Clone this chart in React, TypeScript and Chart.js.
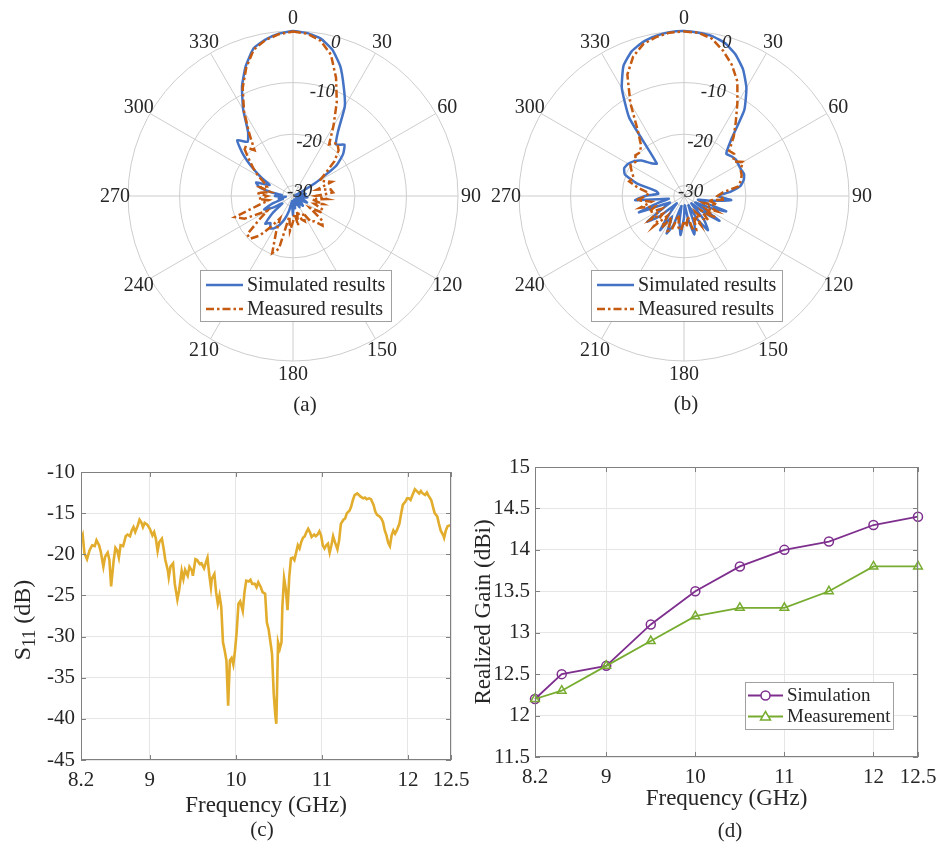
import { useEffect, useRef } from 'react';
import { Chart, registerables } from 'chart.js';

Chart.register(...registerables);

const SERIF = '"Liberation Serif", "Times New Roman", Times, serif';
const INK = '#262626';
const POLAR_GRID = '#cdcdcd';
const AXIS_GRID = '#e6e6e6';
const AXIS_LINE = '#808080';
const BLUE = '#4472c4';
const ORANGE = '#c55a11';
const GOLD = '#e2ac2c';
const PURPLE = '#7e2f8e';
const GREEN = '#77ac30';

// ---------- radiation patterns (dB, every 5 degrees, clockwise from boresight) ----------
const ANGLE_STEP = 5;
const patternAngles = Array.from({ length: 360 / ANGLE_STEP }, (_, i) => i * ANGLE_STEP);
const radialTicks = [0, -10, -20, -30];

const simA = [
  0, -0.3, -1.0, -2.6, -5.2, -8.7, -11.9, -16.8, -19.0, -17.9, -19.3, -21.8,
  -27.0, -30.5, -31.5, -30.8, -29.5, -31.0, -30.0, -29.2, -30.5, -31.2, -29.8, -29.0,
  -30.6, -31.3, -29.8, -29.3, -31.0, -30.0, -29.5, -31.0, -30.2, -31.3, -29.6, -30.8,
  -28.3, -30.2, -31.0, -29.0, -27.2, -25.8, -24.8, -24.3, -25.2, -24.4, -26.8, -29.5,
  -27.5, -25.8, -27.8, -30.0, -29.2, -30.6, -28.5, -29.8, -27.6, -25.2, -24.4, -27.0,
  -25.0, -22.3, -19.3, -16.7, -18.3, -16.8, -12.7, -8.6, -5.2, -2.4, -1.2, -0.4,
];
const measA = [
  -0.1, -0.4, -1.4, -3.6, -7.6, -11.9, -16.3, -19.8, -18.6, -19.5, -21.5, -24.3,
  -26.0, -25.2, -24.0, -27.2, -24.6, -24.2, -27.6, -25.4, -28.2, -26.0, -27.6, -25.5,
  -25.8, -28.0, -24.6, -23.9, -25.6, -25.9, -28.2, -26.6, -27.2, -29.0, -26.2, -28.6,
  -27.0, -25.2, -28.0, -21.4, -20.2, -24.2, -27.0, -25.0, -22.0, -20.3, -20.4, -24.0,
  -26.2, -21.6, -20.0, -25.0, -27.2, -25.3, -27.0, -25.0, -27.6, -25.4, -26.6, -25.8,
  -24.2, -22.6, -20.8, -18.4, -20.4, -17.2, -13.0, -8.9, -5.5, -2.6, -1.3, -0.5,
];
const simB = [
  0, -0.2, -0.5, -1.3, -2.8, -4.9, -7.8, -11.6, -17.8, -20.4, -20.0, -19.7,
  -19.8, -19.8, -19.6, -20.0, -20.9, -23.0, -25.5, -22.8, -26.8, -29.2, -23.3, -26.8,
  -29.5, -23.6, -27.2, -30.0, -26.0, -23.9, -26.8, -30.0, -26.0, -24.3, -27.5, -30.2,
  -27.8, -24.4, -27.0, -30.0, -26.0, -24.0, -27.5, -23.9, -28.0, -30.0, -26.0, -23.3,
  -27.5, -29.0, -22.7, -26.8, -29.0, -22.5, -24.5, -27.0, -26.5, -22.5, -19.8, -19.2,
  -19.5, -20.2, -21.3, -23.0, -23.8, -13.5, -7.9, -4.2, -2.2, -1.1, -0.5, -0.1,
];
const measB = [
  -0.1, -0.2, -1.0, -2.8, -4.9, -7.5, -11.3, -14.5, -17.0, -19.6, -19.3, -20.3,
  -18.8, -19.9, -20.1, -20.6, -21.3, -24.5, -25.5, -24.0, -27.2, -25.4, -28.0, -25.0,
  -27.2, -24.6, -27.6, -25.4, -26.2, -28.2, -25.5, -27.6, -25.0, -25.2, -28.0, -26.0,
  -27.2, -25.3, -25.8, -28.2, -25.0, -24.5, -27.2, -24.5, -27.0, -23.6, -26.6, -24.0,
  -27.0, -24.5, -26.0, -23.2, -25.6, -22.8, -24.6, -25.2, -23.0, -21.0, -21.6, -20.8,
  -20.0, -20.5, -19.7, -20.0, -19.0, -16.3, -11.2, -6.0, -3.2, -1.5, -0.7, -0.2,
];

// ---------- reflection coefficient ----------
const s11Freq = [
  8.20, 8.22, 8.24, 8.27, 8.30, 8.33, 8.36, 8.38, 8.41, 8.43, 8.46, 8.48, 8.51, 8.53, 8.55, 8.58,
  8.60, 8.62, 8.64, 8.66, 8.69, 8.72, 8.74, 8.77, 8.79, 8.81, 8.83, 8.86, 8.88, 8.90, 8.92, 8.94,
  8.97, 9.00, 9.03, 9.05, 9.07, 9.09, 9.11, 9.14, 9.16, 9.18, 9.21, 9.22, 9.24, 9.27, 9.29, 9.32,
  9.34, 9.37, 9.39, 9.41, 9.44, 9.46, 9.49, 9.50, 9.53, 9.55, 9.58, 9.60, 9.63, 9.66, 9.67, 9.69,
  9.71, 9.72, 9.75, 9.77, 9.79, 9.81, 9.83, 9.85, 9.87, 9.89, 9.91, 9.93, 9.95, 9.97, 9.99, 10.01,
  10.03, 10.05, 10.08, 10.10, 10.12, 10.15, 10.17, 10.19, 10.22, 10.24, 10.26, 10.29, 10.31, 10.34, 10.36, 10.38,
  10.41, 10.42, 10.44, 10.46, 10.47, 10.49, 10.51, 10.53, 10.54, 10.56, 10.58, 10.60, 10.62, 10.64, 10.66, 10.68,
  10.70, 10.72, 10.74, 10.76, 10.78, 10.80, 10.82, 10.84, 10.86, 10.88, 10.91, 10.93, 10.95, 10.97, 10.99, 11.01,
  11.03, 11.05, 11.07, 11.08, 11.09, 11.11, 11.13, 11.15, 11.18, 11.20, 11.22, 11.25, 11.27, 11.29, 11.32, 11.34,
  11.36, 11.38, 11.41, 11.43, 11.45, 11.48, 11.50, 11.52, 11.55, 11.57, 11.60, 11.62, 11.64, 11.67, 11.69, 11.71,
  11.73, 11.75, 11.77, 11.79, 11.81, 11.83, 11.85, 11.87, 11.90, 11.92, 11.94, 11.97, 11.99, 12.01, 12.03, 12.06,
  12.08, 12.10, 12.13, 12.15, 12.17, 12.20, 12.22, 12.24, 12.27, 12.29, 12.31, 12.34, 12.36, 12.38, 12.41, 12.42,
  12.44, 12.46, 12.48, 12.50,
];
const s11dB = [
  -18.3, -17.7, -19.9, -20.6, -19.5, -18.9, -19.0, -18.3, -18.9, -19.7, -21.5, -20.3, -19.8, -20.7, -23.9, -20.7,
  -19.2, -19.5, -20.4, -18.9, -19.0, -17.8, -17.6, -17.8, -17.1, -16.7, -17.3, -16.5, -15.8, -16.1, -16.7, -16.2,
  -16.4, -16.9, -17.7, -17.3, -18.1, -19.6, -18.5, -18.1, -19.3, -20.7, -22.0, -22.8, -21.5, -21.1, -23.6, -25.5,
  -24.4, -22.0, -23.0, -21.9, -22.6, -21.5, -22.0, -22.6, -20.6, -20.7, -21.2, -21.1, -21.7, -20.7, -20.4, -22.4,
  -24.0, -23.0, -22.4, -24.6, -26.0, -25.0, -26.4, -30.7, -31.7, -32.9, -38.4, -32.9, -32.6, -33.4, -31.7, -29.3,
  -26.0, -25.7, -26.9, -24.6, -23.2, -23.3, -23.1, -23.6, -23.6, -24.0, -23.4, -24.0, -24.6, -24.8, -28.3, -29.1,
  -31.3, -32.1, -37.0, -39.8, -40.6, -30.7, -31.5, -30.7, -26.4, -22.9, -24.2, -26.8, -22.8, -20.5, -20.4, -20.7,
  -19.8, -18.9, -19.3, -18.5, -18.0, -17.8, -17.3, -16.9, -17.3, -17.9, -17.6, -17.8, -17.6, -17.2, -17.7, -18.9,
  -19.3, -18.9, -18.7, -19.3, -19.8, -18.9, -17.8, -18.5, -19.4, -18.3, -16.3, -15.8, -15.65, -15.0, -14.7, -14.2,
  -13.4, -12.8, -12.6, -12.8, -13.0, -13.2, -13.1, -13.3, -13.2, -13.3, -14.0, -14.8, -15.2, -15.4, -15.65, -16.1,
  -17.1, -17.7, -18.6, -19.0, -17.7, -17.1, -17.5, -17.1, -16.3, -15.1, -14.0, -13.6, -13.2, -13.2, -13.4, -12.6,
  -12.1, -12.3, -12.6, -12.3, -12.6, -12.8, -12.5, -12.9, -13.4, -14.2, -15.0, -15.4, -16.3, -17.1, -17.7, -18.0,
  -17.1, -16.6, -16.5, -16.5,
];

// ---------- realized gain ----------
const gainFreq = [8.2, 8.5, 9, 9.5, 10, 10.5, 11, 11.5, 12, 12.5];
const gainSim = [12.2, 12.5, 12.6, 13.1, 13.5, 13.8, 14.0, 14.1, 14.3, 14.4];
const gainMeas = [12.2, 12.3, 12.6, 12.9, 13.2, 13.3, 13.3, 13.5, 13.8, 13.8];

const freqTicks = [8.2, 9, 10, 11, 12, 12.5];

const pairs = (xs: number[], ys: number[]) => xs.map((x, i) => ({ x, y: ys[i] }));

const DASH_DOT = [8, 3, 2.5, 3];

// ---------- polar panels ----------
const polarDecor = {
  id: 'polarDecor',
  afterDraw(chart: any) {
    const s = chart.scales.r;
    const ctx: CanvasRenderingContext2D = chart.ctx;
    const cx = s.xCenter;
    const cy = s.yCenter;
    const R = s.drawingArea;
    ctx.save();
    ctx.fillStyle = INK;
    ctx.textAlign = 'center';
    ctx.textBaseline = 'middle';

    // angular labels every 30 degrees
    ctx.font = `20px ${SERIF}`;
    patternAngles.forEach((a, i) => {
      if (a % 30 !== 0) return;
      const p = s.getPointPosition(i, R + 13);
      ctx.fillText(String(a), p.x, p.y + 1);
    });

    // radial labels along the 15 degree direction
    ctx.font = `italic 19px ${SERIF}`;
    const idx = 15 / ANGLE_STEP;
    radialTicks.forEach((v) => {
      const p = s.getPointPosition(idx, s.getDistanceFromCenterForValue(v));
      ctx.fillText(String(v), p.x + (v === -30 ? 4 : 0), p.y + 6);
    });

    // legend
    const bx = cx - 93;
    const by = cy + 74;
    ctx.fillStyle = '#ffffff';
    ctx.fillRect(bx, by, 191, 51);
    ctx.strokeStyle = '#a0a0a0';
    ctx.lineWidth = 1;
    ctx.strokeRect(bx + 0.5, by + 0.5, 191, 51);
    const rows = [
      { text: 'Simulated results', color: BLUE, dash: [] as number[], y: cy + 89 },
      { text: 'Measured results', color: ORANGE, dash: DASH_DOT, y: cy + 113 },
    ];
    ctx.font = `20px ${SERIF}`;
    ctx.textAlign = 'left';
    rows.forEach((r) => {
      ctx.strokeStyle = r.color;
      ctx.lineWidth = 2.5;
      ctx.setLineDash(r.dash);
      ctx.beginPath();
      ctx.moveTo(cx - 87, r.y);
      ctx.lineTo(cx - 50, r.y);
      ctx.stroke();
      ctx.setLineDash([]);
      ctx.fillStyle = INK;
      ctx.fillText(r.text, cx - 46, r.y + 1);
    });
    ctx.restore();
  },
};

function polarConfig(sim: number[], meas: number[]) {
  return {
    type: 'radar',
    data: {
      labels: patternAngles.map(String),
      datasets: [
        {
          label: 'Measured results',
          data: meas,
          borderColor: ORANGE,
          borderWidth: 2.5,
          borderDash: DASH_DOT,
          pointRadius: 0,
          fill: false,
          order: 0,
        },
        {
          label: 'Simulated results',
          data: sim,
          borderColor: BLUE,
          borderWidth: 2.5,
          pointRadius: 0,
          fill: false,
          tension: 0.15,
          order: 1,
        },
      ],
    },
    options: {
      responsive: false,
      animation: false,
      devicePixelRatio: 1,
      events: [],
      layout: { padding: { top: 27, bottom: 35, left: 45, right: 45 } },
      plugins: { legend: { display: false }, tooltip: { enabled: false } },
      scales: {
        r: {
          min: -32,
          max: 0,
          startAngle: 0,
          ticks: { display: false, stepSize: 10 },
          grid: {
            circular: true,
            lineWidth: 1,
            color: (c: any) => (c.tick && c.tick.value < -30 ? 'rgba(0,0,0,0)' : POLAR_GRID),
          },
          angleLines: {
            display: true,
            lineWidth: 1,
            color: (c: any) => (c.index % (30 / ANGLE_STEP) === 0 ? POLAR_GRID : 'rgba(0,0,0,0)'),
          },
          pointLabels: { display: false },
        },
      },
    },
    plugins: [polarDecor],
  };
}

// ---------- cartesian panels ----------
const axesBox = {
  id: 'axesBox',
  afterDatasetsDraw(chart: any) {
    const { ctx, chartArea } = chart;
    const { left, right, top, bottom } = chartArea;
    const x = chart.scales.x;
    const y = chart.scales.y;
    ctx.save();
    ctx.strokeStyle = AXIS_LINE;
    ctx.lineWidth = 1;
    ctx.strokeRect(left + 0.5, top + 0.5, right - left - 1, bottom - top - 1);
    ctx.beginPath();
    x.ticks.forEach((t: any) => {
      const px = Math.round(x.getPixelForValue(t.value)) + 0.5;
      ctx.moveTo(px, bottom);
      ctx.lineTo(px, bottom - 5);
      ctx.moveTo(px, top);
      ctx.lineTo(px, top + 5);
    });
    y.ticks.forEach((t: any) => {
      const py = Math.round(y.getPixelForValue(t.value)) + 0.5;
      ctx.moveTo(left, py);
      ctx.lineTo(left + 5, py);
      ctx.moveTo(right, py);
      ctx.lineTo(right - 5, py);
    });
    ctx.stroke();
    ctx.restore();
  },
};

const tickFont = { family: SERIF, size: 21 };
const titleFont = { family: SERIF, size: 23 };

function freqAxis(height: number, titlePad: number) {
  return {
    type: 'linear',
    min: 8.2,
    max: 12.5,
    afterBuildTicks: (s: any) => {
      s.ticks = freqTicks.map((v) => ({ value: v }));
    },
    afterFit: (s: any) => {
      s.height = height;
      s.paddingLeft = 0;
      s.paddingRight = 0;
    },
    grid: { color: AXIS_GRID, drawTicks: false },
    border: { display: false },
    ticks: {
      autoSkip: false,
      maxRotation: 0,
      padding: 8,
      color: INK,
      font: tickFont,
      callback: (v: any) => String(v),
    },
    title: {
      display: true,
      text: 'Frequency (GHz)',
      color: INK,
      font: titleFont,
      padding: { top: 0, bottom: titlePad },
    },
  };
}

const s11Title = {
  id: 's11Title',
  afterDraw(chart: any) {
    const { ctx, chartArea } = chart;
    const main = `24px ${SERIF}`;
    const sub = `18px ${SERIF}`;
    ctx.save();
    ctx.translate(22, (chartArea.top + chartArea.bottom) / 2 + 4);
    ctx.rotate(-Math.PI / 2);
    ctx.fillStyle = INK;
    ctx.textAlign = 'left';
    ctx.textBaseline = 'alphabetic';
    ctx.font = main;
    const wS = ctx.measureText('S').width;
    const wRest = ctx.measureText(' (dB)').width;
    ctx.font = sub;
    const wSub = ctx.measureText('11').width;
    const x0 = -(wS + wSub + wRest) / 2;
    ctx.font = main;
    ctx.fillText('S', x0, 8);
    ctx.font = sub;
    ctx.fillText('11', x0 + wS, 13);
    ctx.font = main;
    ctx.fillText(' (dB)', x0 + wS + wSub, 8);
    ctx.restore();
  },
};

function s11Config() {
  return {
    type: 'line',
    data: {
      datasets: [
        {
          data: pairs(s11Freq, s11dB),
          borderColor: GOLD,
          borderWidth: 2.6,
          pointRadius: 0,
          tension: 0,
        },
      ],
    },
    options: {
      responsive: false,
      animation: false,
      devicePixelRatio: 1,
      events: [],
      layout: { padding: { top: 32, right: 19, left: 0, bottom: 0 } },
      plugins: { legend: { display: false }, tooltip: { enabled: false } },
      scales: {
        x: freqAxis(60, 0),
        y: {
          min: -45,
          max: -10,
          afterFit: (s: any) => {
            s.width = 81;
            s.paddingTop = 0;
            s.paddingBottom = 0;
          },
          grid: { color: AXIS_GRID, drawTicks: false },
          border: { display: false },
          ticks: { stepSize: 5, padding: 6, color: INK, font: tickFont, callback: (v: any) => String(v) },
        },
      },
    },
    plugins: [axesBox, s11Title],
  };
}

const gainLegend = {
  id: 'gainLegend',
  afterDraw(chart: any) {
    const { ctx, chartArea } = chart;
    const bx = Math.round(chartArea.right - 173);
    const by = Math.round(chartArea.bottom - 75);
    ctx.save();
    ctx.fillStyle = '#ffffff';
    ctx.fillRect(bx, by, 148, 47);
    ctx.strokeStyle = '#a0a0a0';
    ctx.lineWidth = 1;
    ctx.strokeRect(bx + 0.5, by + 0.5, 148, 47);
    const rows = [
      { text: 'Simulation', color: PURPLE, marker: 'circle', y: by + 13.5 },
      { text: 'Measurement', color: GREEN, marker: 'triangle', y: by + 34.5 },
    ];
    ctx.font = `19px ${SERIF}`;
    ctx.textAlign = 'left';
    ctx.textBaseline = 'middle';
    rows.forEach((r) => {
      ctx.strokeStyle = r.color;
      ctx.lineWidth = 1.8;
      ctx.beginPath();
      ctx.moveTo(bx + 3, r.y);
      ctx.lineTo(bx + 38, r.y);
      ctx.stroke();
      const mx = bx + 20.5;
      ctx.lineWidth = 1.5;
      ctx.fillStyle = '#ffffff';
      ctx.beginPath();
      if (r.marker === 'circle') {
        ctx.arc(mx, r.y, 4.5, 0, Math.PI * 2);
      } else {
        ctx.moveTo(mx, r.y - 5);
        ctx.lineTo(mx + 5, r.y + 3.5);
        ctx.lineTo(mx - 5, r.y + 3.5);
        ctx.closePath();
      }
      ctx.fill();
      ctx.stroke();
      ctx.fillStyle = INK;
      ctx.fillText(r.text, bx + 42, r.y + 1);
    });
    ctx.restore();
  },
};

function gainConfig() {
  return {
    type: 'line',
    data: {
      datasets: [
        {
          label: 'Measurement',
          data: pairs(gainFreq, gainMeas),
          borderColor: GREEN,
          borderWidth: 1.8,
          pointStyle: 'triangle',
          pointRadius: 5,
          pointBorderWidth: 1.5,
          pointBorderColor: GREEN,
          pointBackgroundColor: 'rgba(255,255,255,0)',
          clip: false,
          order: 0,
        },
        {
          label: 'Simulation',
          data: pairs(gainFreq, gainSim),
          borderColor: PURPLE,
          borderWidth: 1.8,
          pointStyle: 'circle',
          pointRadius: 4.5,
          pointBorderWidth: 1.5,
          pointBorderColor: PURPLE,
          pointBackgroundColor: 'rgba(255,255,255,0)',
          clip: false,
          order: 1,
        },
      ],
    },
    options: {
      responsive: false,
      animation: false,
      devicePixelRatio: 1,
      events: [],
      layout: { padding: { top: 27, right: 20, left: 0, bottom: 0 } },
      plugins: { legend: { display: false }, tooltip: { enabled: false } },
      scales: {
        x: freqAxis(63, 7),
        y: {
          min: 11.5,
          max: 15,
          afterFit: (s: any) => {
            s.width = 65;
            s.paddingTop = 0;
            s.paddingBottom = 0;
          },
          grid: { color: AXIS_GRID, drawTicks: false },
          border: { display: false },
          ticks: { stepSize: 0.5, padding: 5, color: INK, font: tickFont, callback: (v: any) => String(v) },
          title: {
            display: true,
            text: 'Realized Gain (dBi)',
            color: INK,
            font: titleFont,
            padding: { top: 0, bottom: 0 },
          },
        },
      },
    },
    plugins: [axesBox, gainLegend],
  };
}

function ChartCanvas(props: { make: () => any; left: number; top: number; width: number; height: number }) {
  const ref = useRef<HTMLCanvasElement>(null);
  useEffect(() => {
    const chart = new Chart(ref.current as HTMLCanvasElement, props.make());
    return () => chart.destroy();
  }, []);
  const { left, top, width, height } = props;
  return (
    <canvas
      ref={ref}
      width={width}
      height={height}
      style={{ position: 'absolute', left, top, width, height, display: 'block' }}
    />
  );
}

function Caption(props: { text: string; x: number; y: number }) {
  return (
    <div
      style={{
        position: 'absolute',
        left: props.x,
        top: props.y,
        transform: 'translate(-50%, -50%)',
        fontFamily: SERIF,
        fontSize: 21,
        color: INK,
        whiteSpace: 'nowrap',
        lineHeight: 1,
      }}
    >
      {props.text}
    </div>
  );
}

export default function App() {
  return (
    <div
      style={{
        position: 'absolute',
        left: 0,
        top: 0,
        width: 938,
        height: 844,
        background: '#ffffff',
        overflow: 'hidden',
      }}
    >
      <ChartCanvas make={() => polarConfig(simA, measA)} left={83} top={4} width={420} height={392} />
      <ChartCanvas make={() => polarConfig(simB, measB)} left={474} top={4} width={420} height={392} />
      <ChartCanvas make={s11Config} left={0} top={440} width={470} height={380} />
      <ChartCanvas make={gainConfig} left={470} top={440} width={468} height={380} />
      <Caption text="(a)" x={305} y={404} />
      <Caption text="(b)" x={686} y={403} />
      <Caption text="(c)" x={262} y={829} />
      <Caption text="(d)" x={730} y={830} />
    </div>
  );
}
